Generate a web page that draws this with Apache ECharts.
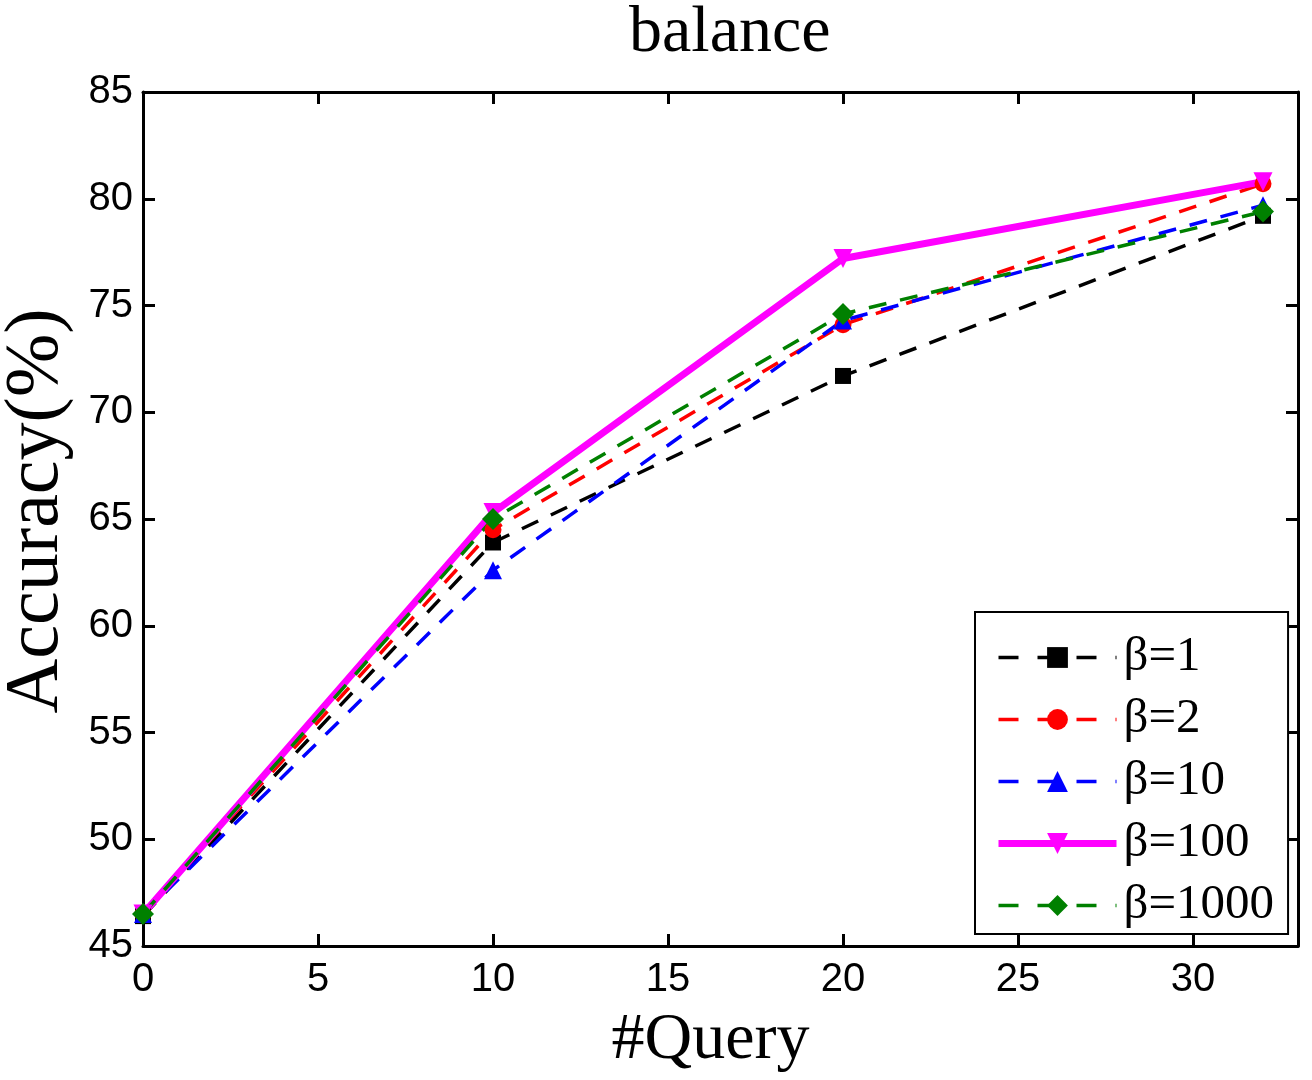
<!DOCTYPE html>
<html>
<head>
<meta charset="utf-8">
<script src="https://cdn.jsdelivr.net/npm/echarts@6/dist/echarts.min.js"></script>
<style>
  html, body { margin: 0; padding: 0; background: #fff; }
  #chart { width: 1312px; height: 1080px; }
</style>
</head>
<body>
<div id="chart"></div>
<script>
// query counts on the x axis
const queries = [0, 10, 20, 32];
// accuracy (%) per beta
const beta1 = [46.4, 63.9, 71.7, 79.2];
const beta2 = [46.5, 64.5, 74.1, 80.7];
const beta10 = [46.5, 62.6, 74.3, 79.7];
const beta100 = [46.5, 65.3, 77.2, 80.8];
const beta1000 = [46.5, 65.0, 74.6, 79.4];
const xTicks = [0, 5, 10, 15, 20, 25, 30];
const yTicks = [45, 50, 55, 60, 65, 70, 75, 80, 85];

const serif = 'Liberation Serif';
const sans = 'Liberation Sans';

const pairs = (ys) => queries.map((q, i) => [q, ys[i]]);

const mkSeries = (name, ys, color, symbol, size, opts = {}) => ({
  name,
  type: 'line',
  data: pairs(ys),
  symbol,
  symbolSize: size,
  symbolRotate: opts.rotate || 0,
  showAllSymbol: true,
  itemStyle: { color },
  lineStyle: {
    color,
    width: opts.width || 3.5,
    type: opts.solid ? 'solid' : [18, 14]
  },
  emphasis: { disabled: true },
  animation: false
});

// legend entries: same look as the series but with the legend's dash rhythm
const legendItem = (name, color, solid) => ({
  name,
  itemStyle: { color },
  lineStyle: { color, width: solid ? 7 : 3.5, type: solid ? 'solid' : [20, 19] }
});

const chart = echarts.init(document.getElementById('chart'));

const axisCommon = {
  axisLine: { show: true, onZero: false, lineStyle: { color: '#000', width: 3 } },
  axisTick: { show: true, inside: true, length: 12, lineStyle: { color: '#000', width: 3 } },
  splitLine: { show: false }
};

chart.setOption({
  backgroundColor: '#fff',
  animation: false,
  title: {
    text: 'balance',
    left: 624,
    top: -4,
    textStyle: { fontFamily: serif, fontSize: 66, fontWeight: 'normal', color: '#000' }
  },
  grid: { left: 143, right: 14, top: 92, bottom: 134, containLabel: false, outerBoundsMode: 'none' },
  legend: {
    orient: 'vertical',
    left: 975,
    top: 612,
    width: 312,
    backgroundColor: '#fff',
    borderColor: '#000',
    borderWidth: 2,
    padding: [21, 14, 4, 20],
    itemWidth: 118,
    itemHeight: 26,
    itemGap: 13,
    textStyle: { fontFamily: serif, fontSize: 49, color: '#000', padding: [0, 0, 0, 2] },
    data: [
      legendItem('β=1', '#000000', false),
      legendItem('β=2', '#ff0000', false),
      legendItem('β=10', '#0000ff', false),
      legendItem('β=100', '#ff00ff', true),
      legendItem('β=1000', '#008000', false)
    ]
  },
  xAxis: [
    Object.assign({
      type: 'value',
      min: 0,
      max: 33,
      interval: 5,
      name: '#Query',
      nameLocation: 'middle',
      nameGap: 62,
      nameTextStyle: { fontFamily: serif, fontSize: 66, color: '#000', padding: [0, 20, 0, 0] },
      axisLabel: {
        fontFamily: sans, fontSize: 40, color: '#000', margin: 14,
        formatter: (v) => (xTicks.includes(v) ? String(v) : '')
      }
    }, axisCommon),
    Object.assign({
      type: 'value', position: 'top', min: 0, max: 33, interval: 5,
      axisLabel: { show: false }
    }, axisCommon)
  ],
  yAxis: [
    Object.assign({
      type: 'value',
      min: 45,
      max: 85,
      interval: 5,
      name: 'Accuracy(%)',
      nameLocation: 'middle',
      nameGap: 68,
      nameTextStyle: { fontFamily: serif, fontSize: 76, color: '#000', padding: [0, 0, 0, 16] },
      axisLabel: {
        fontFamily: sans, fontSize: 40, color: '#000', margin: 10,
        formatter: (v) => (yTicks.includes(v) ? String(v) : '')
      }
    }, axisCommon),
    Object.assign({
      type: 'value', position: 'right', min: 45, max: 85, interval: 5,
      axisLabel: { show: false }
    }, axisCommon)
  ],
  series: [
    mkSeries('β=1', beta1, '#000000', 'rect', 16),
    mkSeries('β=2', beta2, '#ff0000', 'circle', 17),
    mkSeries('β=10', beta10, '#0000ff', 'triangle', 18),
    mkSeries('β=100', beta100, '#ff00ff', 'triangle', 19, { solid: true, width: 7, rotate: 180 }),
    mkSeries('β=1000', beta1000, '#008000', 'diamond', 22)
  ]
});
</script>
</body>
</html>
